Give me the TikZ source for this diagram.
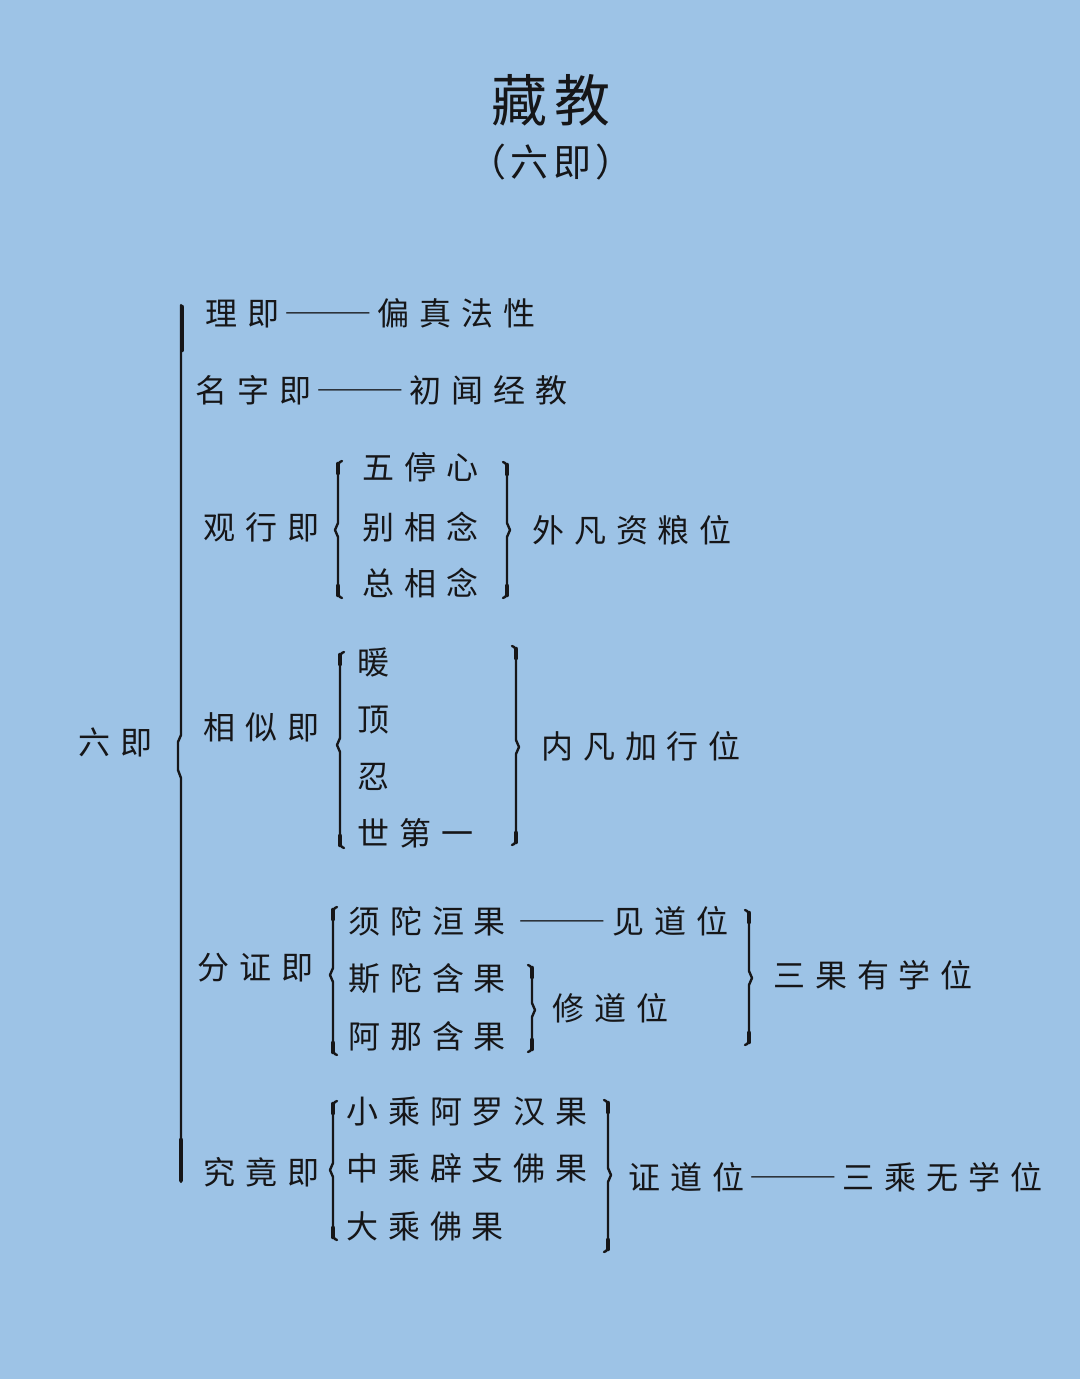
\documentclass[tikz,border=0pt]{standalone}
\usepackage{fontspec}
\newfontfamily\cjk[LetterSpace=31,CharacterWidth=Full]{Noto Sans CJK SC}
\newfontfamily\cjkt[LetterSpace=12,CharacterWidth=Full]{Noto Sans CJK SC}
\definecolor{bg}{RGB}{157,195,230}
\definecolor{ink}{RGB}{22,22,24}
\newcommand\dsh{\hspace{4pt}\scalebox{1.4}[1]{——}\hspace{5pt}}
\newcommand\LBr[4]{%
  \draw[br] ({#1+4},#2) to[out=190,in=90] (#1,{#2+8}) -- (#1,{#4-7}) -- ({#1-3},#4) -- (#1,{#4+7}) -- (#1,{#3-8}) to[out=-90,in=170] ({#1+4},#3);
  \draw[brend] (#1,{#2+3}) -- (#1,{#2+12});
  \draw[brend] (#1,{#3-12}) -- (#1,{#3-3});}
\newcommand\RBr[4]{%
  \draw[br] ({#1-4},#2) to[out=-10,in=90] (#1,{#2+8}) -- (#1,{#4-7}) -- ({#1+3},#4) -- (#1,{#4+7}) -- (#1,{#3-8}) to[out=-90,in=10] ({#1-4},#3);
  \draw[brend] (#1,{#2+3}) -- (#1,{#2+12});
  \draw[brend] (#1,{#3-12}) -- (#1,{#3-3});}
\begin{document}
\begin{tikzpicture}[x=1pt,y=-1pt,
  txt/.style={anchor=west,inner sep=0pt,font=\cjk\fontsize{32}{32}\selectfont,text=ink},
  br/.style={draw=ink,line width=2.4pt,line join=round,line cap=round},
  brend/.style={draw=ink,line width=4.6pt,line cap=round}]
\fill[bg] (0,0) rectangle (1080,1379);
\useasboundingbox (0,0) rectangle (1080,1379);
% title
\node[inner sep=0pt,text=ink,font=\cjkt\fontsize{56}{56}\selectfont] (title) at (551,100) {藏教};
\node[inner sep=0pt,text=ink,font=\cjkt\fontsize{38}{38}\selectfont] (sub) at (551,162) {（六即）};
% root
\node[txt] (root) at (78,742) {六即};
% big bracket
\draw[br] (181,305) -- (181,735) -- (178,742) -- (178,770) -- (181,778) -- (181,1182);
\draw[brend] (182,307) -- (182,350);
\draw[brend] (181,1140) -- (181,1180);
% rows
\node[txt] (li) at (205,313) {理即\dsh 偏真法性};
\node[txt] (ming) at (195,390) {名字即\dsh 初闻经教};
% 观行即
\node[txt] (guan) at (203,527) {观行即};
\LBr{338}{461}{598}{530}
\node[txt] (g1) at (362,467) {五停心};
\node[txt] (g2) at (362,527) {别相念};
\node[txt] (g3) at (362,583) {总相念};
\RBr{507}{462}{598}{530}
\node[txt] (gw) at (532,530) {外凡资粮位};
% 相似即
\node[txt] (xiang) at (203,727) {相似即};
\LBr{340}{652}{848}{745}
\node[txt] (x1) at (357,662) {暖};
\node[txt] (x2) at (357,720) {顶};
\node[txt] (x3) at (357,777) {忍};
\node[txt] (x4) at (357,833) {世第一};
\RBr{516}{646}{845}{747}
\node[txt] (xw) at (541,746) {内凡加行位};
% 分证即
\node[txt] (fen) at (197,968) {分证即};
\LBr{333}{907}{1055}{975}
\node[txt] (f1) at (348,921) {须陀洹果\hspace{8pt}\dsh 见道位};
\node[txt] (f2) at (348,979) {斯陀含果};
\node[txt] (f3) at (348,1036) {阿那含果};
\RBr{532}{965}{1052}{1010}
\node[txt] (fx) at (552,1008) {修道位};
\RBr{749}{910}{1045}{978}
\node[txt] (fw) at (773,975) {三果有学位};
% 究竟即
\node[txt] (jiu) at (203,1172) {究竟即};
\LBr{333}{1101}{1240}{1170}
\node[txt] (j1) at (346,1111) {小乘阿罗汉果};
\node[txt] (j2) at (346,1168) {中乘辟支佛果};
\node[txt] (j3) at (346,1226) {大乘佛果};
\RBr{608}{1100}{1252}{1175}
\node[txt] (jw) at (628,1177) {证道位\dsh 三乘无学位};
\end{tikzpicture}
\end{document}
